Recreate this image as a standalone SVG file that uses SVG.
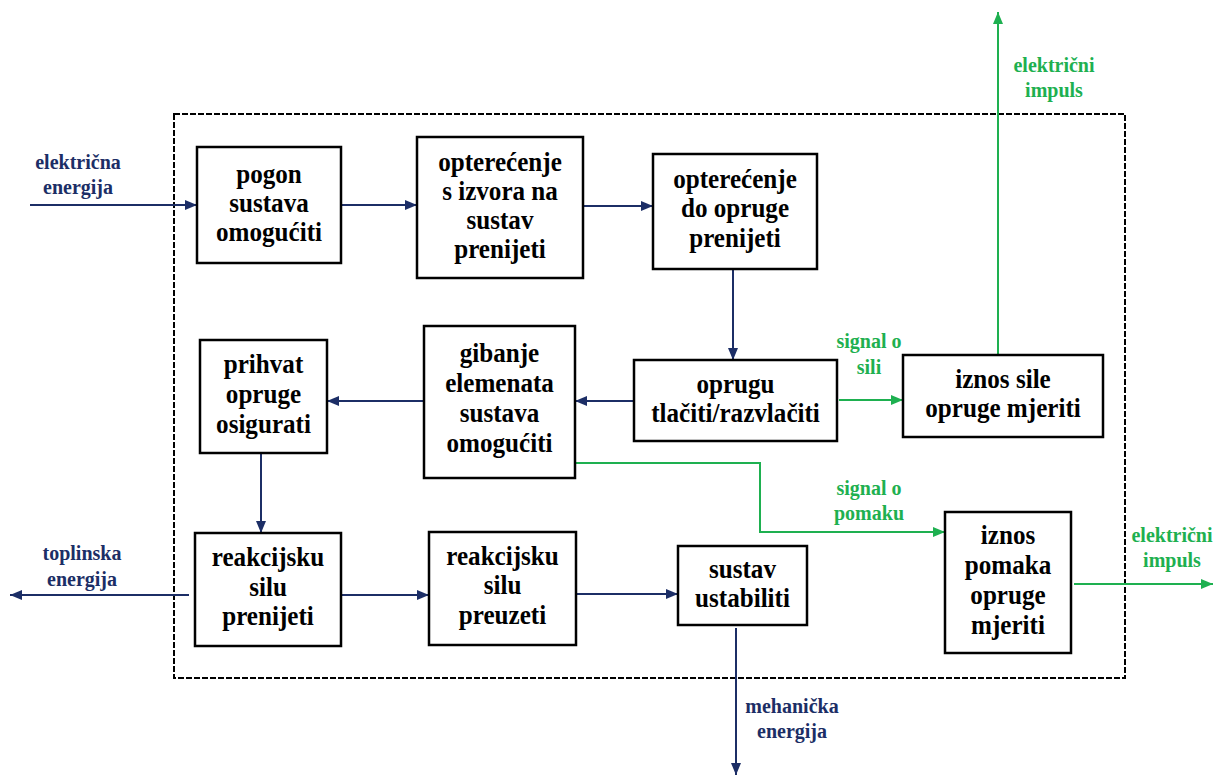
<svg xmlns="http://www.w3.org/2000/svg" width="1215" height="776" viewBox="0 0 1215 776">
<style>
.box{fill:#fff;stroke:#000;stroke-width:2.5}
.bt{font-family:"Liberation Serif","Times New Roman",serif;font-weight:bold;font-size:27px;fill:#000;text-anchor:middle}
.lb{font-family:"Liberation Serif","Times New Roman",serif;font-weight:bold;font-size:20px;text-anchor:middle}
.nv{fill:#1c2e66}
.gr{fill:#1eb050}
.cn{fill:none;stroke:#1c2e66;stroke-width:2}
.cg{fill:none;stroke:#1eb050;stroke-width:2}
.frame{fill:none;stroke:#000;stroke-width:2;stroke-dasharray:6 2}
</style>
<defs>
<marker id="an" viewBox="0 0 12 10" refX="12" refY="5" markerWidth="12" markerHeight="10" markerUnits="userSpaceOnUse" orient="auto"><path d="M0,0 L12,5 L0,10 z" fill="#1c2e66"/></marker>
<marker id="ag" viewBox="0 0 12 10" refX="12" refY="5" markerWidth="12" markerHeight="10" markerUnits="userSpaceOnUse" orient="auto"><path d="M0,0 L12,5 L0,10 z" fill="#1eb050"/></marker>
</defs>
<rect width="1215" height="776" fill="#fff"/>
<rect id="frame" class="frame" x="174" y="114" width="951" height="564"/>

<g id="connectors">
<path class="cn" d="M30,205 H197" marker-end="url(#an)"/>
<path class="cn" d="M341,205 H417" marker-end="url(#an)"/>
<path class="cn" d="M583,206 H653" marker-end="url(#an)"/>
<path class="cn" d="M733,269 V360" marker-end="url(#an)"/>
<path class="cn" d="M634,401 H575" marker-end="url(#an)"/>
<path class="cn" d="M424,401 H327" marker-end="url(#an)"/>
<path class="cn" d="M261,453 V533" marker-end="url(#an)"/>
<path class="cn" d="M189,595 H10" marker-end="url(#an)"/>
<path class="cn" d="M341,595 H429" marker-end="url(#an)"/>
<path class="cn" d="M576,594 H678" marker-end="url(#an)"/>
<path class="cn" d="M736,628 V775" marker-end="url(#an)"/>
<path class="cg" d="M839,400 H903" marker-end="url(#ag)"/>
<path class="cg" d="M998,355 V12" marker-end="url(#ag)"/>
<path class="cg" d="M575,463 H760 V532 H945" marker-end="url(#ag)"/>
<path class="cg" d="M1074,584 H1213" marker-end="url(#ag)"/>
<text class="lb nv" x="78" y="169">električna</text>
<text class="lb nv" x="78" y="194">energija</text>
<text class="lb nv" x="82" y="560">toplinska</text>
<text class="lb nv" x="82" y="586">energija</text>
<text class="lb nv" x="792" y="713">mehanička</text>
<text class="lb nv" x="792" y="738">energija</text>
<text class="lb gr" x="869" y="348">signal o</text>
<text class="lb gr" x="869" y="374">sili</text>
<text class="lb gr" x="869" y="495">signal o</text>
<text class="lb gr" x="869" y="520">pomaku</text>
<text class="lb gr" x="1054" y="72">električni</text>
<text class="lb gr" x="1054" y="97">impuls</text>
<text class="lb gr" x="1172" y="542">električni</text>
<text class="lb gr" x="1172" y="567">impuls</text>
</g>

<g id="n1"><rect class="box" x="197" y="147" width="144" height="116"/>
<g transform="translate(269 0) scale(0.93 1)"><text class="bt" x="0" y="183">pogon</text><text class="bt" x="0" y="212">sustava</text><text class="bt" x="0" y="241">omogućiti</text></g></g>

<g id="n2"><rect class="box" x="417" y="137" width="166" height="141"/>
<g transform="translate(500 0) scale(0.93 1)"><text class="bt" x="0" y="171">opterećenje</text><text class="bt" x="0" y="200">s izvora na</text><text class="bt" x="0" y="229">sustav</text><text class="bt" x="0" y="258">prenijeti</text></g></g>

<g id="n3"><rect class="box" x="653" y="154" width="164" height="115"/>
<g transform="translate(735 0) scale(0.93 1)"><text class="bt" x="0" y="188">opterećenje</text><text class="bt" x="0" y="217">do opruge</text><text class="bt" x="0" y="247">prenijeti</text></g></g>

<g id="n4"><rect class="box" x="634" y="360" width="203" height="81"/>
<g transform="translate(735.5 0) scale(0.93 1)"><text class="bt" x="0" y="393">oprugu</text><text class="bt" x="0" y="422">tlačiti/razvlačiti</text></g></g>

<g id="n5"><rect class="box" x="903" y="355" width="200" height="82"/>
<g transform="translate(1003 0) scale(0.93 1)"><text class="bt" x="0" y="388">iznos sile</text><text class="bt" x="0" y="417">opruge mjeriti</text></g></g>

<g id="n6"><rect class="box" x="424" y="326" width="151" height="152"/>
<g transform="translate(499.5 0) scale(0.93 1)"><text class="bt" x="0" y="362">gibanje</text><text class="bt" x="0" y="392">elemenata</text><text class="bt" x="0" y="422">sustava</text><text class="bt" x="0" y="452">omogućiti</text></g></g>

<g id="n7"><rect class="box" x="200" y="340" width="127" height="113"/>
<g transform="translate(263.5 0) scale(0.93 1)"><text class="bt" x="0" y="373">prihvat</text><text class="bt" x="0" y="403">opruge</text><text class="bt" x="0" y="433">osigurati</text></g></g>

<g id="n8"><rect class="box" x="195" y="533" width="146" height="113"/>
<g transform="translate(268 0) scale(0.93 1)"><text class="bt" x="0" y="566">reakcijsku</text><text class="bt" x="0" y="596">silu</text><text class="bt" x="0" y="625">prenijeti</text></g></g>

<g id="n9"><rect class="box" x="429" y="532" width="147" height="113"/>
<g transform="translate(502.5 0) scale(0.93 1)"><text class="bt" x="0" y="565">reakcijsku</text><text class="bt" x="0" y="594">silu</text><text class="bt" x="0" y="624">preuzeti</text></g></g>

<g id="n10"><rect class="box" x="678" y="546" width="129" height="79"/>
<g transform="translate(742.5 0) scale(0.93 1)"><text class="bt" x="0" y="578">sustav</text><text class="bt" x="0" y="607">ustabiliti</text></g></g>

<g id="n11"><rect class="box" x="945" y="512" width="126" height="141"/>
<g transform="translate(1008 0) scale(0.93 1)"><text class="bt" x="0" y="544">iznos</text><text class="bt" x="0" y="574">pomaka</text><text class="bt" x="0" y="604">opruge</text><text class="bt" x="0" y="634">mjeriti</text></g></g>
</svg>
